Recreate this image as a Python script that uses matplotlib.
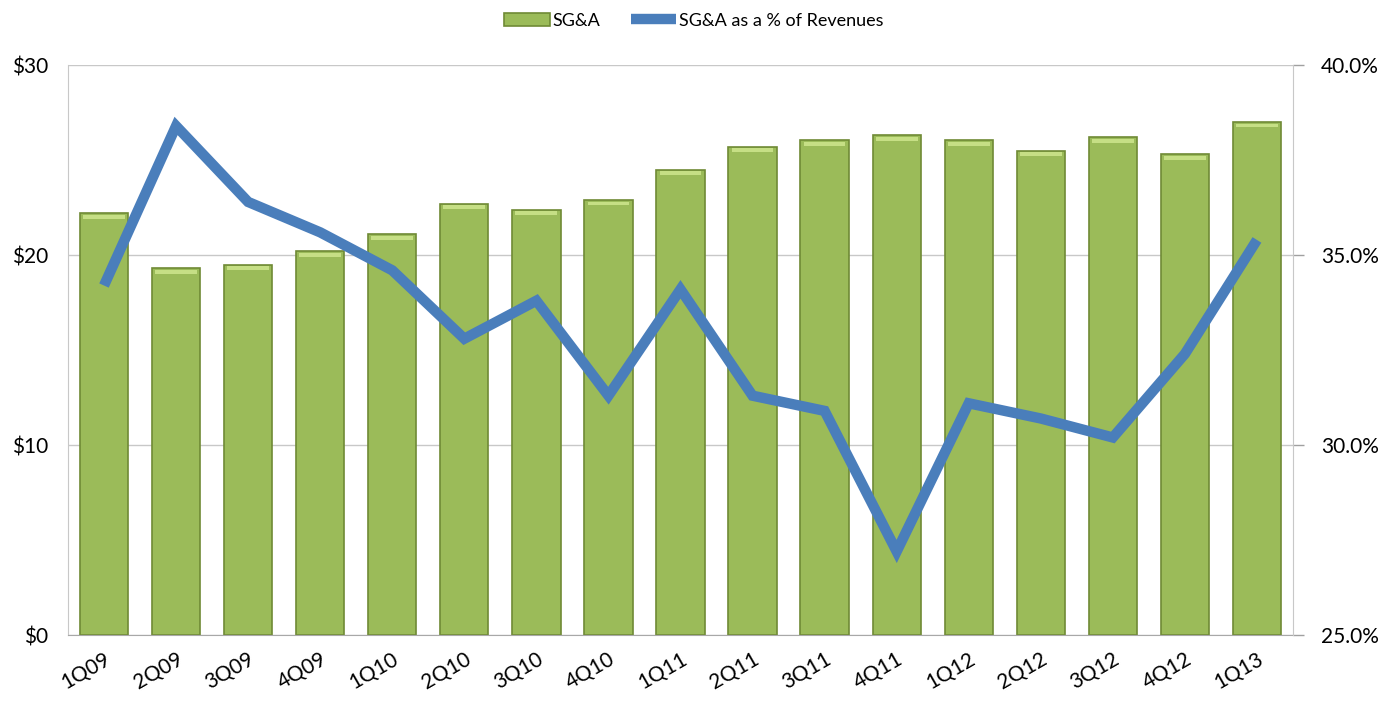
import matplotlib
matplotlib.use("Agg")
import matplotlib.pyplot as plt
from matplotlib.ticker import FuncFormatter

quarters = ["1Q09", "2Q09", "3Q09", "4Q09", "1Q10", "2Q10", "3Q10", "4Q10", "1Q11",
            "2Q11", "3Q11", "4Q11", "1Q12", "2Q12", "3Q12", "4Q12", "1Q13"]
sga = [22.2, 19.3, 19.5, 20.2, 21.1, 22.7, 22.4, 22.9, 24.5,
       25.7, 26.05, 26.3, 26.05, 25.5, 26.2, 25.3, 27.0]
sga_pct = [34.2, 38.4, 36.4, 35.6, 34.6, 32.8, 33.8, 31.3, 34.1,
           31.3, 30.9, 27.2, 31.1, 30.7, 30.2, 32.4, 35.4]

green = "#9bbb59"
green_edge = "#6f8a35"
blue = "#4a7ebb"

plt.rcParams['font.family'] = ['Lato', 'DejaVu Sans']

fig = plt.figure(figsize=(13.93, 7.07), dpi=100)
ax = fig.add_axes([0.0488, 0.1018, 0.8794, 0.806])
ax2 = ax.twinx()

x = list(range(len(quarters)))
ax.bar(x, sga, width=0.67, color=green, edgecolor=green_edge, linewidth=1.2,
       zorder=2, label="SG&A")
# light cap on the top of each bar
ax.bar(x, [0.2] * len(x), bottom=[v - 0.28 for v in sga], width=0.58,
       color="#c6df85", linewidth=0, zorder=3)

ax.set_xlim(-0.5, len(quarters) - 0.5)
ax.set_ylim(0, 30)
ax.set_yticks([0, 10, 20, 30])
ax.yaxis.set_major_formatter(FuncFormatter(lambda v, p: "${:.0f}".format(v)))
ax.grid(axis="y", color="#c8c8c8", linewidth=1, zorder=0)
ax.set_axisbelow(True)
ax.set_xticks(x)
ax.set_xticklabels(quarters, rotation=30, ha="right", rotation_mode="anchor")
ax.tick_params(axis="x", length=0, pad=10, labelsize=15)
ax.tick_params(axis="y", length=0, pad=14, labelsize=15)

ax2.plot(x, sga_pct, color=blue, linewidth=7.5, solid_joinstyle="miter",
         solid_capstyle="butt", zorder=5, label="SG&A as a % of Revenues")
ax2.set_ylim(25, 40)
ax2.set_yticks([25, 30, 35, 40])
ax2.yaxis.set_major_formatter(FuncFormatter(lambda v, p: "{:.1f}%".format(v)))
ax2.tick_params(axis="y", length=8, width=1, color="#a0a0a0", pad=12, labelsize=15)

for a in (ax, ax2):
    for s in a.spines.values():
        s.set_visible(False)
ax.spines["left"].set_visible(True)
ax.spines["left"].set_color("#c8c8c8")
ax.spines["bottom"].set_visible(True)
ax.spines["bottom"].set_color("#a8a8a8")
ax2.spines["right"].set_visible(True)
ax2.spines["right"].set_color("#c8c8c8")

h1, l1 = ax.get_legend_handles_labels()
h2, l2 = ax2.get_legend_handles_labels()
fig.legend(h1 + h2, l1 + l2, loc="upper center", bbox_to_anchor=(0.498, 1.005), ncol=2,
           frameon=False, fontsize=13, handlelength=2.5, handletextpad=0.15,
           columnspacing=1.7)

plt.savefig("out.png", dpi=100)
